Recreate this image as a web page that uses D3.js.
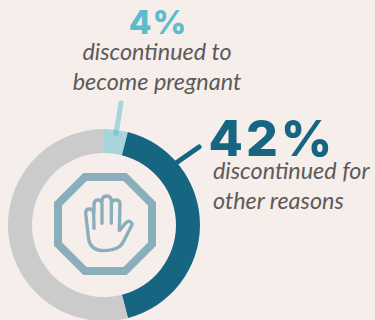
<!DOCTYPE html>
<html>
<head>
<meta charset="utf-8">
<script src="https://cdnjs.cloudflare.com/ajax/libs/d3/7.8.5/d3.min.js"></script>
<style>
html,body{margin:0;padding:0;background:#f5eeeb;overflow:hidden}
svg{display:block}
</style>
</head>
<body>
<svg id="chart" width="375" height="320"></svg>
<script>
const categories = ["discontinued to become pregnant", "discontinued for other reasons", "other"];
const shares = [4, 42, 54];
const sliceColors = ["#a8d5db", "#166682", "#cbcbcc"];

const svg = d3.select("#chart");
const cx = 104, cy = 225, outer = 96, inner = 72;

const pie = d3.pie().sort(null).value(d => d);
const arc = d3.arc().innerRadius(inner).outerRadius(outer);
const ring = svg.append("g").attr("transform", `translate(${cx},${cy})`);
ring.selectAll("path")
  .data(pie(shares))
  .join("path")
  .attr("d", arc)
  .attr("fill", (d, i) => sliceColors[i]);

// Leader lines from the ring to the callouts
svg.append("line")
  .attr("x1", 121).attr("y1", 103).attr("x2", 116).attr("y2", 134)
  .attr("stroke", "#5bbccc").attr("stroke-opacity", 0.5)
  .attr("stroke-width", 5).attr("stroke-linecap", "round");
svg.append("line")
  .attr("x1", 199).attr("y1", 147).attr("x2", 176).attr("y2", 163)
  .attr("stroke", "#166682")
  .attr("stroke-width", 5).attr("stroke-linecap", "round");

// Stop sign with raised hand
const iconColor = "#8aaebb";
const octagon = [[-20,-47],[20,-47],[47,-20],[47,20],[20,47],[-20,47],[-47,20],[-47,-20]];
svg.append("path")
  .attr("transform", "translate(105,224)")
  .attr("d", d3.line()(octagon) + "Z")
  .attr("fill", "none").attr("stroke", iconColor).attr("stroke-width", 8);
svg.append("path")
  .attr("transform", "translate(40,160) scale(0.3333)")
  .attr("d", "M190 272 Q152 272 146 238 L137 160 Q137 147 148 147 Q160 147 161 160 L162 205 M162 160 L162 132 Q163 120 174 120 Q185 120 186 132 L186 190 M186 125 Q186 108 200 108 Q214 108 214 125 L214 190 M214 132 Q215 120 227 120 Q240 120 240 132 L238 212 L258 188 Q270 178 277 192 L250 245 Q238 272 190 272")
  .attr("fill", "none").attr("stroke", iconColor).attr("stroke-width", 10)
  .attr("stroke-linecap", "round").attr("stroke-linejoin", "round");

// Callouts
const bigFont = "Inter, 'Open Sans', sans-serif";
const noteFont = "Lato, sans-serif";
const noteColor = "#5d5a5a";

svg.append("text")
  .attr("x", 158).attr("y", 34).attr("text-anchor", "middle")
  .attr("font-family", bigFont).attr("font-weight", 800).attr("font-size", 33)
  .attr("fill", "#5bbccc").attr("letter-spacing", 1)
  .text(shares[0] + "%");
[["discontinued to", 60], ["become pregnant", 90]].forEach(([t, y]) => {
  svg.append("text")
    .attr("x", 157).attr("y", y).attr("text-anchor", "middle")
    .attr("font-family", noteFont).attr("font-style", "italic").attr("font-size", 23.4)
    .attr("fill", noteColor).text(t);
});

svg.append("text")
  .attr("x", 208.5).attr("y", 156)
  .attr("font-family", bigFont).attr("font-weight", 800).attr("font-size", 50)
  .attr("fill", "#166682").attr("letter-spacing", 3)
  .text(shares[1] + "%");
[["discontinued for", 179], ["other reasons", 209]].forEach(([t, y]) => {
  svg.append("text")
    .attr("x", 213).attr("y", y)
    .attr("font-family", noteFont).attr("font-style", "italic").attr("font-size", 23.4)
    .attr("fill", noteColor).text(t);
});
</script>
</body>
</html>
